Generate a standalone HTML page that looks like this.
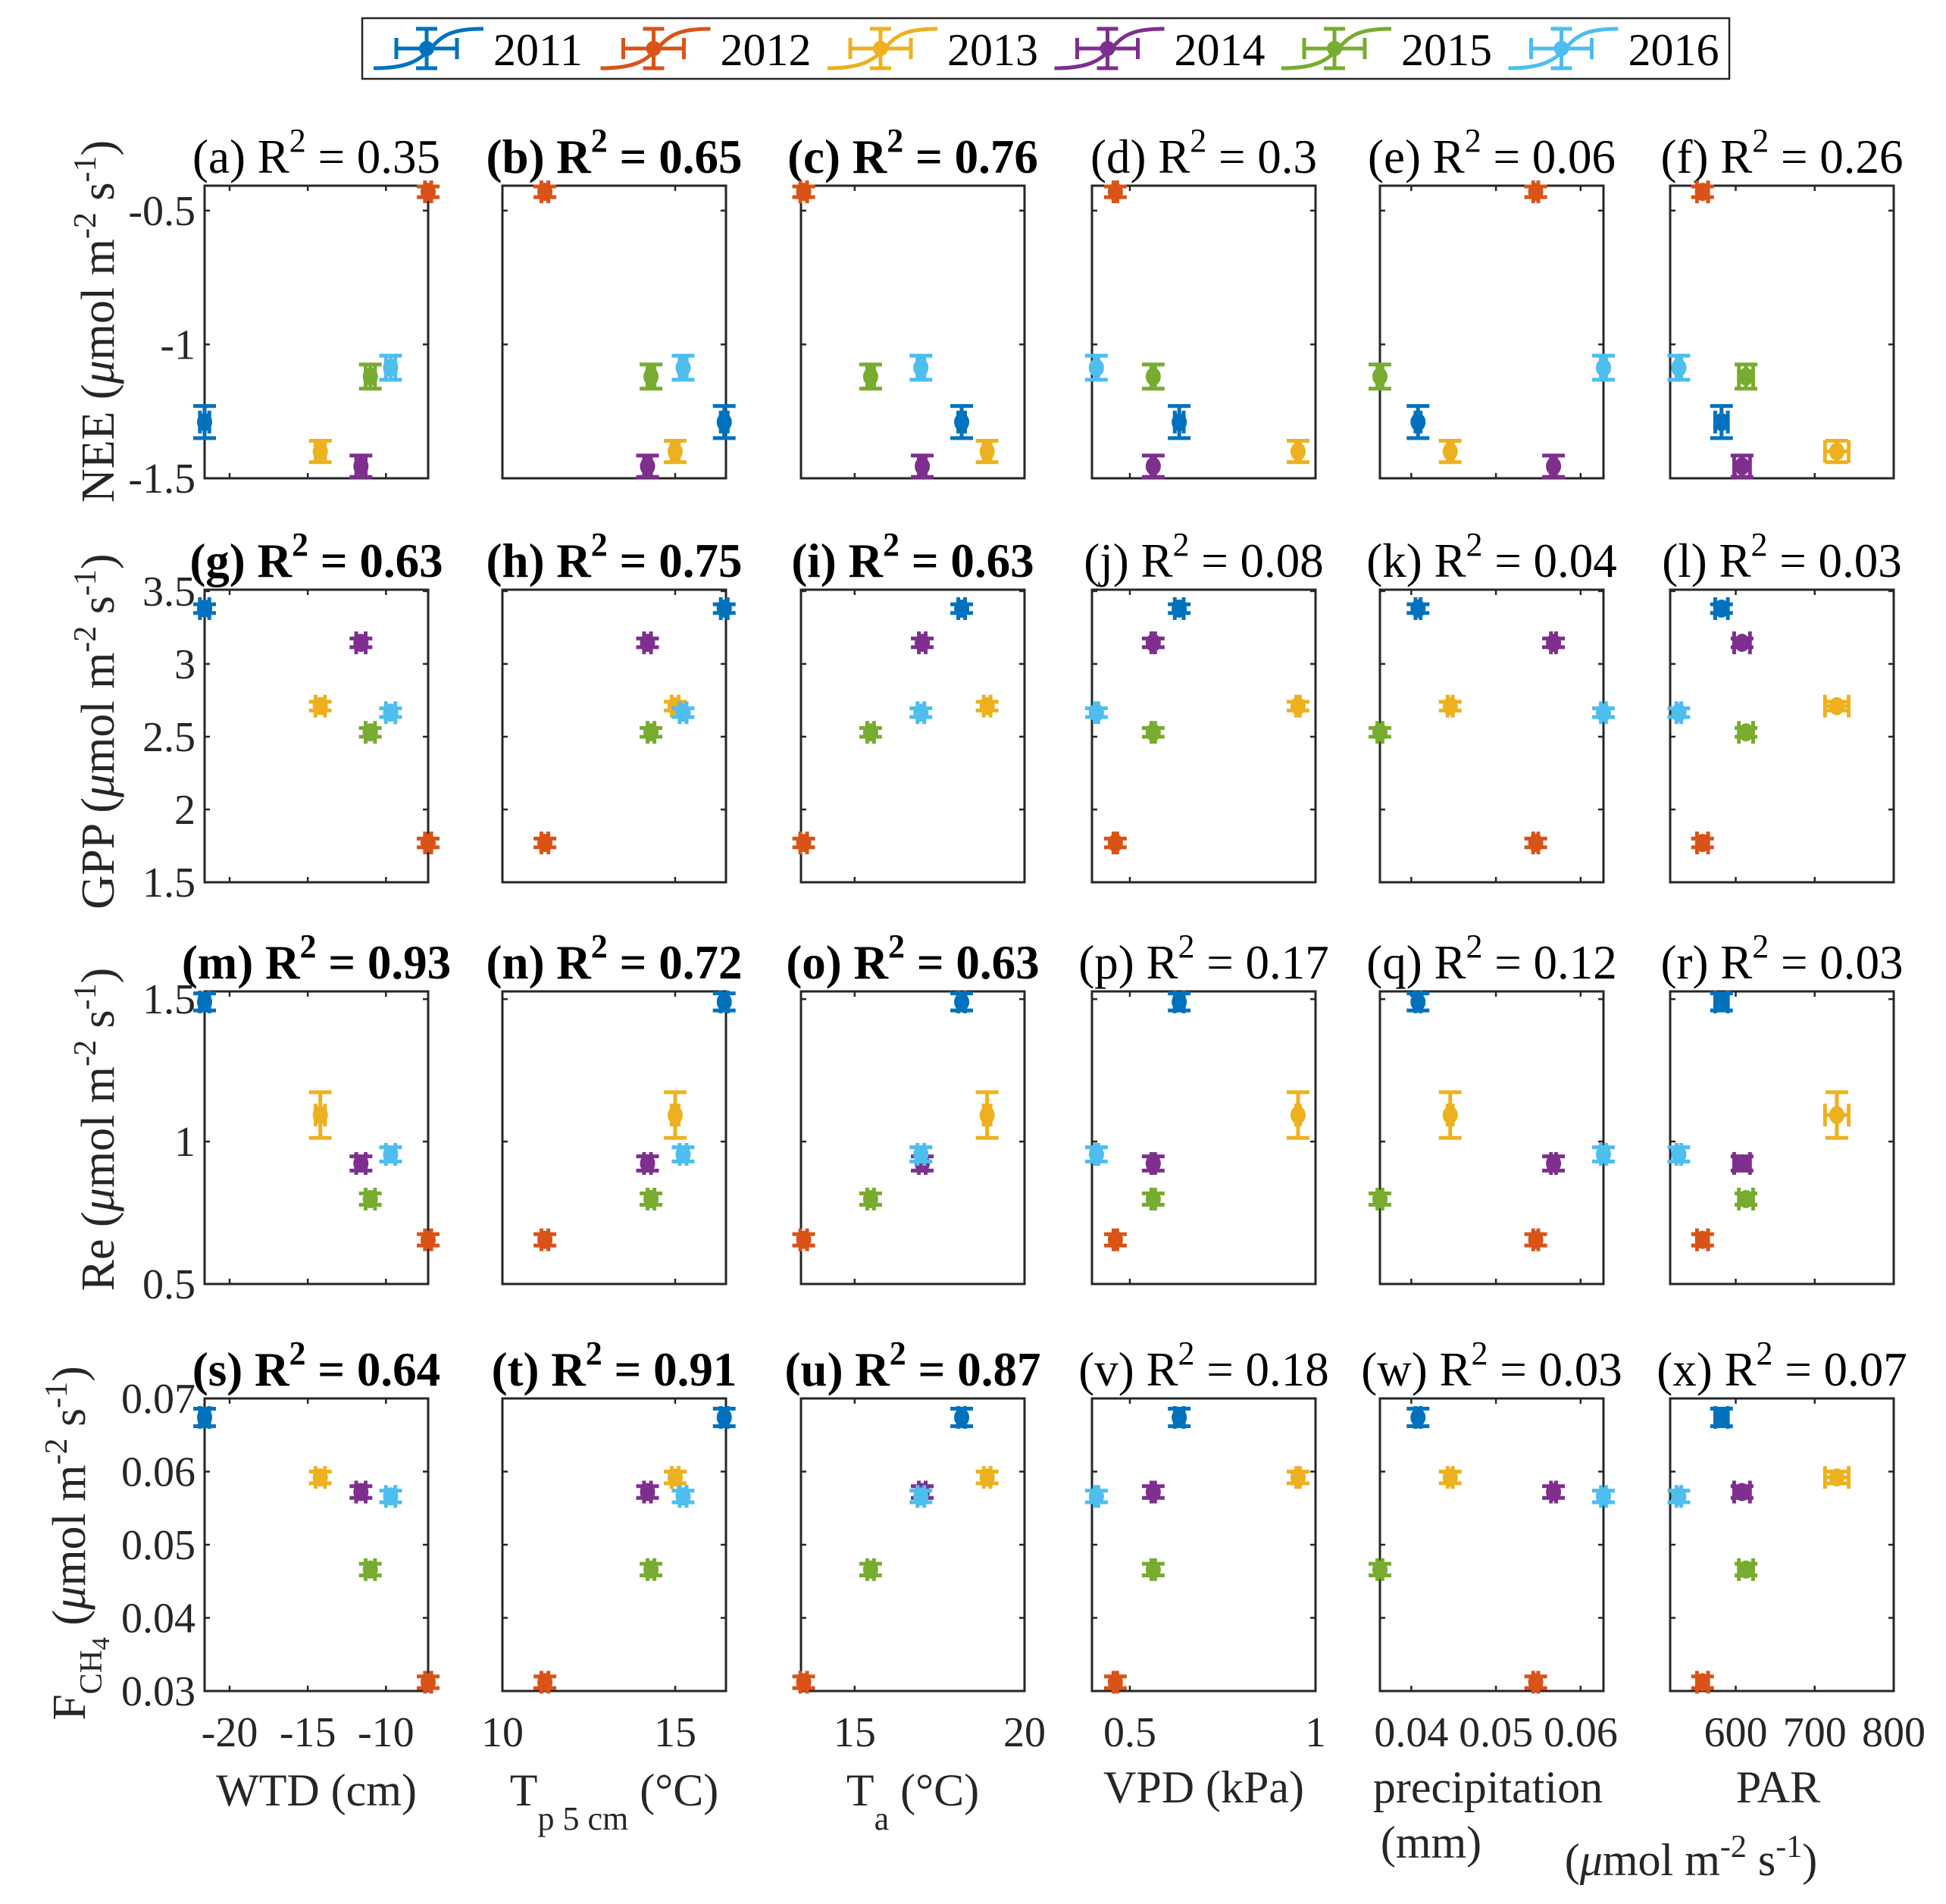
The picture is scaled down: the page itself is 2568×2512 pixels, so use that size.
<!DOCTYPE html>
<html><head><meta charset="utf-8"><style>
html,body{margin:0;padding:0;background:#fff;}
svg{display:block;font-family:"Liberation Serif",serif;}
</style></head><body>
<svg id="chart" width="2568" height="2512" viewBox="0 0 2568 2512" xmlns="http://www.w3.org/2000/svg">
<g id="legend">
<rect x="478" y="24" width="1804" height="80" fill="#fff" stroke="#262626" stroke-width="2.5"/>
</g>
</svg>
<script>
const years = ['2011','2012','2013','2014','2015','2016'];
const colors = ['#0072BD','#D95319','#EDB120','#7E2F8E','#77AC30','#4DBEEE'];
// x-variable values per year (2011..2016)
const wtd = [-21.6,-7.3,-14.2,-11.6,-11.0,-9.7];
const tp5 = [16.42,11.23,15.0,14.2,14.3,15.23];
const ta = [18.15,13.5,18.9,16.99,15.47,16.95];
const vpd = [0.633,0.461,0.953,0.563,0.563,0.41];
const precip = [0.0408,0.0547,0.0446,0.0568,0.0363,0.0627];
const par = [582,558,728,608,613,528];
// x errors
const wtdErr = [0.3,0.2,0.3,0.3,0.3,0.3];
const tp5Err = [0.1,0.1,0.1,0.1,0.1,0.1];
const taErr = [0.1,0.1,0.1,0.1,0.1,0.1];
const vpdErr = [0.012,0.005,0.005,0.005,0.005,0.005];
const precipErr = [0.0003,0.0003,0.0003,0.0003,0.0003,0.0003];
const parErr = [8,7,15,10,9,3];
// response values per year
const nee = [-1.29,-0.43,-1.40,-1.455,-1.12,-1.087];
const gpp = [3.38,1.77,2.71,3.145,2.53,2.665];
const re = [1.49,0.655,1.093,0.923,0.798,0.955];
const fch4 = [0.0674,0.0312,0.0592,0.0572,0.0466,0.0566];
const neeErr = [0.06,0.02,0.04,0.04,0.045,0.045];
const gppErr = [0.03,0.03,0.03,0.03,0.03,0.03];
const reErr = [0.03,0.02,0.08,0.025,0.02,0.025];
const fch4Err = [0.0012,0.0008,0.0008,0.0008,0.0008,0.0008];
// axis ranges & ticks
const xRanges = [[-21.6,-7.3],[10,16.47],[13.42,20],[0.398,1],[0.0363,0.0627],[517,800]];
const xTicks = [[-20,-15,-10],[10,15],[15,20],[0.5,1],[0.04,0.05,0.06],[600,700,800]];
const xTickLabels = [['-20','-15','-10'],['10','15'],['15','20'],['0.5','1'],['0.04','0.05','0.06'],['600','700','800']];
const yRanges = [[-1.5,-0.407],[1.5,3.51],[0.5,1.527],[0.03,0.07]];
const yTicks = [[-1.5,-1,-0.5],[1.5,2,2.5,3,3.5],[0.5,1,1.5],[0.03,0.04,0.05,0.06,0.07]];
const yTickLabels = [['-1.5','-1','-0.5'],['1.5','2','2.5','3','3.5'],['0.5','1','1.5'],['0.03','0.04','0.05','0.06','0.07']];
const letters = 'abcdefghijklmnopqrstuvwx';
const r2 = ['0.35','0.65','0.76','0.3','0.06','0.26','0.63','0.75','0.63','0.08','0.04','0.03','0.93','0.72','0.63','0.17','0.12','0.03','0.64','0.91','0.87','0.18','0.03','0.07'];
const boldTitles = 'bcghimnostu';

const xData = [wtd,tp5,ta,vpd,precip,par];
const xErrData = [wtdErr,tp5Err,taErr,vpdErr,precipErr,parErr];
const yData = [nee,gpp,re,fch4];
const yErrData = [neeErr,gppErr,reErr,fch4Err];

const colL = [270,663,1057,1441,1821,2204];
const colW = 295;
const rowT = [245,778,1308,1845];
const rowH = 386;

const NS='http://www.w3.org/2000/svg';
const svg=document.getElementById('chart');
function el(tag,attrs,parent){const e=document.createElementNS(NS,tag);for(const k in attrs)e.setAttribute(k,attrs[k]);(parent||svg).appendChild(e);return e;}

for(let r=0;r<4;r++){
  for(let c=0;c<6;c++){
    const idx=r*6+c;
    const L=colL[c],T=rowT[r],W=colW,H=rowH;
    const [x0,x1]=xRanges[c],[y0,y1]=yRanges[r];
    const sx=v=>L+(v-x0)/(x1-x0)*W;
    const sy=v=>T+H-(v-y0)/(y1-y0)*H;
    const g=el('g',{});
    
    
    const box=el('rect',{x:L,y:T,width:W,height:H,fill:'none',stroke:'#262626','stroke-width':3},g);
    
    
    xTicks[c].forEach((t,i)=>{
      const x=sx(t);
      el('line',{x1:x,x2:x,y1:T+H,y2:T+H-7,stroke:'#262626','stroke-width':2.5},g);
      el('line',{x1:x,x2:x,y1:T,y2:T+7,stroke:'#262626','stroke-width':2.5},g);
      if(r===3){
        const tx=el('text',{x:x,y:2304,'font-size':56,'text-anchor':'middle',fill:'#262626'},g);
        tx.textContent=xTickLabels[c][i];
        
        
      }
    });
    yTicks[r].forEach((t,i)=>{
      const y=sy(t);
      el('line',{x1:L,x2:L+7,y1:y,y2:y,stroke:'#262626','stroke-width':2.5},g);
      el('line',{x1:L+W,x2:L+W-7,y1:y,y2:y,stroke:'#262626','stroke-width':2.5},g);
      if(c===0){
        const tx=el('text',{x:L-12,y:y+19,'font-size':56,'text-anchor':'end',fill:'#262626'},g);
        tx.textContent=yTickLabels[r][i];
        
        
      }
    });
    const bold=boldTitles.includes(letters[idx]);
    const tt=el('text',{x:L+W/2,y:T-17,'font-size':bold?63:63,'font-weight':bold?'bold':'normal','text-anchor':'middle',fill:'#000'},g);
    tt.innerHTML='('+letters[idx]+') R<tspan dy="-28" font-size="44">2</tspan><tspan dy="28"> = '+r2[idx]+'</tspan>';
    
    
    for(let k=0;k<6;k++){
      const xv=xData[c][k],yv=yData[r][k],xe=xErrData[c][k],ye=yErrData[r][k];
      const px=sx(xv),py=sy(yv);
      const pg=el('g',{stroke:colors[k],'stroke-width':5,fill:colors[k]},g);
      
      
      const ya=sy(yv+ye),yb=sy(yv-ye),xa=sx(xv-xe),xb=sx(xv+xe);
      el('line',{x1:px,x2:px,y1:ya,y2:yb},pg);
      el('line',{x1:px-15,x2:px+15,y1:ya,y2:ya},pg);
      el('line',{x1:px-15,x2:px+15,y1:yb,y2:yb},pg);
      el('line',{x1:xa,x2:xb,y1:py,y2:py},pg);
      el('line',{x1:xa,x2:xa,y1:py-15,y2:py+15},pg);
      el('line',{x1:xb,x2:xb,y1:py-15,y2:py+15},pg);
      el('ellipse',{cx:px,cy:py,rx:10,ry:12,stroke:'none'},pg);
    }
  }
}
const yLabels=[
 {cx:150,cy:424,html:'NEE (<tspan font-style="italic">μ</tspan>mol m<tspan dy="-24" font-size="42">-2</tspan><tspan dy="24"> s</tspan><tspan dy="-24" font-size="42">-1</tspan><tspan dy="24">)</tspan>',name:'y-axis-title-nee'},
 {cx:150,cy:965,html:'GPP (<tspan font-style="italic">μ</tspan>mol m<tspan dy="-24" font-size="42">-2</tspan><tspan dy="24"> s</tspan><tspan dy="-24" font-size="42">-1</tspan><tspan dy="24">)</tspan>',name:'y-axis-title-gpp'},
 {cx:150,cy:1490,html:'Re (<tspan font-style="italic">μ</tspan>mol m<tspan dy="-24" font-size="42">-2</tspan><tspan dy="24"> s</tspan><tspan dy="-24" font-size="42">-1</tspan><tspan dy="24">)</tspan>',name:'y-axis-title-re'},
 {cx:112,cy:2036,html:'F<tspan dy="22" font-size="42">CH</tspan><tspan dy="10" font-size="34">4</tspan><tspan dy="-32"> (</tspan><tspan font-style="italic">μ</tspan>mol m<tspan dy="-24" font-size="42">-2</tspan><tspan dy="24"> s</tspan><tspan dy="-24" font-size="42">-1</tspan><tspan dy="24">)</tspan>',name:'y-axis-title-fch4'}
];
yLabels.forEach(o=>{
  const t=el('text',{x:0,y:0,'font-size':62,'text-anchor':'middle',fill:'#262626',transform:`translate(${o.cx},${o.cy}) rotate(-90)`});
  t.innerHTML=o.html;
  
  
});
const xLabels=[
 {x:colL[0]+colW/2,y:2382,html:'WTD (cm)',name:'x-axis-title-wtd'},
 {x:colL[1]+colW/2,y:2382,html:'T<tspan dy="32" font-size="44">p 5 cm</tspan><tspan dy="-32"> (°C)</tspan>',name:'x-axis-title-tp5'},
 {x:colL[2]+colW/2,y:2382,html:'T<tspan dy="32" font-size="44">a</tspan><tspan dy="-32"> (°C)</tspan>',name:'x-axis-title-ta'},
 {x:colL[3]+colW/2,y:2378,html:'VPD (kPa)',name:'x-axis-title-vpd'},
 {x:colL[4]+colW/2-5,y:2378,html:'precipitation',name:'x-axis-title-precip'},
 {x:colL[4]+colW/2-80,y:2451,html:'(mm)',name:'x-axis-title-precip-unit'},
 {x:colL[5]+colW/2-5,y:2378,html:'PAR',name:'x-axis-title-par'},
 {x:colL[5]+colW/2-120,y:2474,html:'(<tspan font-style="italic">μ</tspan>mol m<tspan dy="-24" font-size="42">-2</tspan><tspan dy="24"> s</tspan><tspan dy="-24" font-size="42">-1</tspan><tspan dy="24">)</tspan>',name:'x-axis-title-par-unit'}
];
xLabels.forEach(o=>{
  const t=el('text',{x:o.x,y:o.y,'font-size':60,'text-anchor':'middle',fill:'#262626'});
  t.innerHTML=o.html;
  
  
});
const lg=document.getElementById('legend');
years.forEach((yr,k)=>{
  const ox=493+k*299.5;
  const g=el('g',{stroke:colors[k],'stroke-width':5,fill:'none'},lg);
  
  
  el('path',{d:`M${ox},90 C${ox+45},90 ${ox+60},80 ${ox+75},64 S${ox+100},38 ${ox+145},38`},g);
  const cx=ox+70,cy=64;
  el('line',{x1:cx,x2:cx,y1:38,y2:90},g);
  el('line',{x1:cx-14,x2:cx+14,y1:38,y2:38},g);
  el('line',{x1:cx-14,x2:cx+14,y1:90,y2:90},g);
  el('line',{x1:cx-40,x2:cx+40,y1:cy,y2:cy},g);
  el('line',{x1:cx-40,x2:cx-40,y1:cy-14,y2:cy+14},g);
  el('line',{x1:cx+40,x2:cx+40,y1:cy-14,y2:cy+14},g);
  el('circle',{cx:cx,cy:cy,r:10,fill:colors[k],stroke:'none'},g);
  const t=el('text',{x:ox+158,y:86,'font-size':60,fill:'#000'},lg);
  t.textContent=yr;
  
  
});
</script>
</body></html>
